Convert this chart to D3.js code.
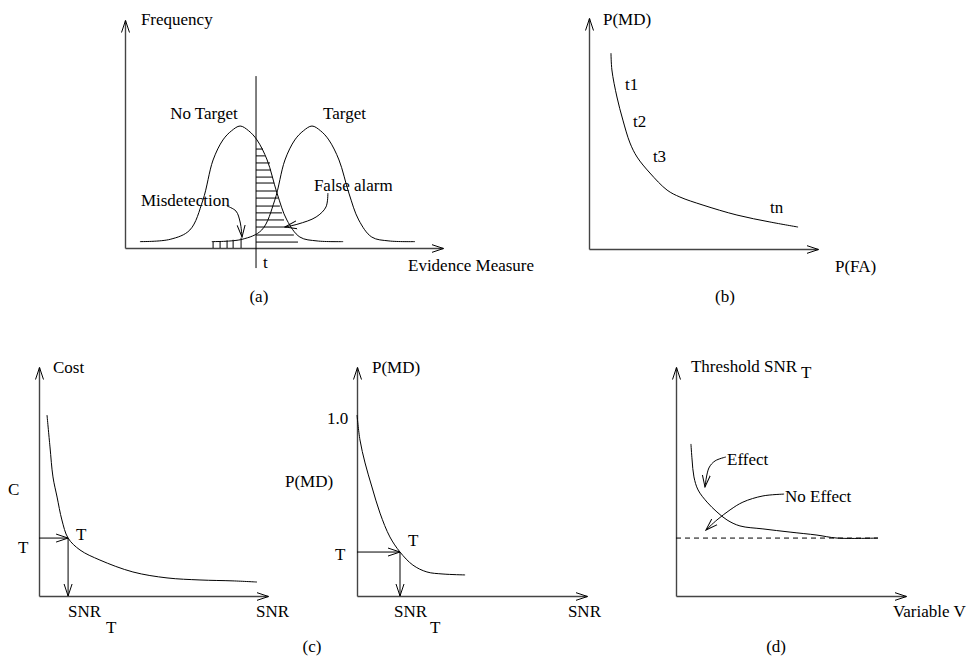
<!DOCTYPE html>
<html><head><meta charset="utf-8">
<script src="https://cdn.jsdelivr.net/npm/d3@7"></script>
<style>body{margin:0;background:#fff}svg{display:block}</style>
</head><body>
<svg id="chart" width="969" height="658"></svg>
<script>
// ---------- data (abstract axis units, 0..100 on each axis) ----------
// Panel (a): frequency distributions over the evidence measure
const noTargetCurve = [[4.7,2.8],[14.2,3.8],[20.4,7.9],[24.5,21],[27.7,38.6],[30.8,47.4],[33.5,51.4],[36.2,53.5],[38.9,51.4],[41.5,47.4],[44.7,38.6],[47.8,24.1],[50.9,12.3],[55,4.8],[60.4,3.1],[68.6,2.8]];
const targetCurve   = [[27.3,2.8],[36.8,3.8],[43,7.9],[47.1,21],[50.3,38.6],[53.4,47.4],[56.1,51.4],[58.8,53.5],[61.5,51.4],[64.1,47.4],[67.3,38.6],[70.4,24.1],[73.5,12.3],[77.6,4.8],[83,3.1],[91.2,2.8]];
const thresholdT = 41.2;
const thresholdSpan = [-8.8, 75.4];
const falseAlarmHatchY   = [43.4,40.4,37.3,34.2,31.1,28.5,25.0,21.9,18.4,15.4,12.3,9.2,5.7,2.6];
const falseAlarmHatchEnd = [43.4,44.0,45.6,45.9,46.5,46.9,47.5,48.1,48.7,49.4,50.0,50.9,53.1,54.4];
const missHatchX   = [27.7,29.9,32.1,34.0,36.5];
const missHatchTop = [2.8,3.0,3.3,3.6,4.5];
const missArrow  = [[32.1,18.4],[34.9,16.2],[36.2,11.4],[36.8,4.8]];
const faArrow    = [[63.8,24.1],[63.2,18.0],[60.1,13.6],[54.4,10.5],[50.3,9.2]];

// Panel (b): ROC-like curve P(MD) vs P(FA)
const rocCurve = [[9.6,84.8],[10.0,77.5],[12.2,65.8],[14.8,55.8],[17.9,45.9],[21.0,39.8],[26.6,32.9],[34.1,25.5],[39.7,22.5],[49.8,19.0],[64.6,14.7],[79.0,11.7],[91.3,9.5]];
const rocLabels = ["t1","t2","t3","tn"];

// Panel (c) left: cost vs SNR
const costCurve = [[3.5,79.0],[4.8,65.1],[6.1,52.0],[7.9,43.2],[10.0,33.2],[12.7,25.3],[17.9,20.1],[26.6,15.7],[41.0,10.5],[55.9,7.9],[70.3,7.0],[84.7,6.6],[95.2,6.1]];
const costPointT = [12.7,25.3];

// Panel (c) right: P(MD) vs SNR
const pmdCurve = [[0,79.0],[1.3,68.1],[3.5,58.1],[6.5,47.6],[10.0,36.2],[14.3,25.8],[18.7,19.2],[24.3,13.5],[30.4,10.5],[37.4,9.6],[47.0,9.2]];
const pmdPointT = [18.7,19.2];

// Panel (d): threshold SNR_T vs variable V
const effectCurve = [[6.5,66.4],[7.0,59.4],[7.8,52.0],[9.6,46.3],[13.5,41.0],[17.8,36.7],[22.2,33.2],[27.8,30.6],[37.8,29.3],[49.6,27.9],[61.3,26.6],[70.0,25.3],[87.8,25.3]];
const noEffectLevel = 25.3;
const noEffectSpan = [0, 87.8];
const effectArrow   = [[21.7,60.7],[17,59],[14.3,55.9],[12.6,47.6]];
const noEffectArrow = [[47,44.5],[37.8,43.7],[29.1,41.0],[23.5,37.6],[17.8,33.2],[13,28.8]];

// ---------- drawing ----------
const svg = d3.select("#chart");
svg.append("rect").attr("width",969).attr("height",658).attr("fill","#fff");

const defs = svg.append("defs");
defs.append("marker").attr("id","arr").attr("viewBox","0 0 13 10")
  .attr("refX",12).attr("refY",5).attr("markerWidth",13).attr("markerHeight",10)
  .attr("markerUnits","userSpaceOnUse").attr("orient","auto")
  .append("path").attr("d","M0,1 L12,5 L0,9").attr("fill","none").attr("stroke","#000").attr("stroke-width",1);

function panel(x0,x1,y0,y1){
  const x = d3.scaleLinear([0,100],[x0,x1]);
  const y = d3.scaleLinear([0,100],[y0,y1]);
  const g = svg.append("g");
  const ax = g.append("g").attr("transform",`translate(0,${y0})`).call(d3.axisBottom(x).tickValues([]).tickSizeOuter(0));
  const ay = g.append("g").attr("transform",`translate(${x0},0)`).call(d3.axisLeft(y).tickValues([]).tickSizeOuter(0));
  [ax,ay].forEach(a=>a.select(".domain").attr("stroke","#444").attr("stroke-width",1.4).attr("marker-end","url(#arr)"));
  return {x,y,g};
}
function curve(p,pts,opts={}){
  const line = d3.line().x(d=>p.x(d[0])).y(d=>p.y(d[1])).curve(opts.linear?d3.curveLinear:d3.curveCatmullRom.alpha(0.5));
  const path = p.g.append("path").attr("d",line(pts)).attr("fill","none").attr("stroke","#000").attr("stroke-width",1);
  if(opts.arrow) path.attr("marker-end","url(#arr)");
  if(opts.dash) path.attr("stroke-dasharray",opts.dash);
  return path;
}
function text(p,str,xv,yv,anchor="start"){
  return p.g.append("text").attr("x",p.x(xv)).attr("y",p.y(yv)).attr("text-anchor",anchor)
    .style("font-family","Liberation Serif").style("font-size","17px").attr("fill","#000").text(str);
}

// Panel (a)
const A = panel(125,443,248,20);
falseAlarmHatchY.forEach((yv,i)=>curve(A,[[thresholdT,yv],[falseAlarmHatchEnd[i],yv]],{linear:true}));
missHatchX.forEach((xv,i)=>curve(A,[[xv,0],[xv,missHatchTop[i]]],{linear:true}));
curve(A,noTargetCurve);
curve(A,targetCurve);
curve(A,[[thresholdT,thresholdSpan[0]],[thresholdT,thresholdSpan[1]]],{linear:true});
curve(A,missArrow,{arrow:true});
curve(A,faArrow,{arrow:true});
text(A,"Frequency",5.0,97.8);
text(A,"No Target",14.2,56.6);
text(A,"Target",62.3,56.6);
text(A,"Misdetection",5.0,18.4);
text(A,"False alarm",59.4,25.0);
text(A,"t",43.4,-8.8);
text(A,"Evidence Measure",89.0,-10.1);
text(A,"(a)",42.1,-23.7,"middle");

// Panel (b)
const B = panel(589,818,249,18);
curve(B,rocCurve);
text(B,"P(MD)",6.1,97.0);
[[15.7,68.8],[19.2,52.8],[27.9,37.7],[79.0,15.6]].forEach((q,i)=>text(B,rocLabels[i],q[0],q[1]));
text(B,"P(FA)",107.4,-10.0);
text(B,"(b)",59.4,-22.9,"middle");

// Panel (c) left
const C1 = panel(39,268,596,367);
curve(C1,costCurve);
curve(C1,[[0,costPointT[1]],costPointT],{linear:true,arrow:true});
curve(C1,[costPointT,[costPointT[0],0]],{linear:true,arrow:true});
text(C1,"Cost",6.1,97.4);
text(C1,"C",-13.5,44.1);
text(C1,"T",-9.2,18.8);
text(C1,"T",16.2,24.5);
text(C1,"SNR",12.7,-9.2);
text(C1,"T",29.3,-16.2);
text(C1,"SNR",94.8,-9.2);

// Panel (c) right
const C2 = panel(357,587,596,367);
curve(C2,pmdCurve);
curve(C2,[[0,pmdPointT[1]],pmdPointT],{linear:true,arrow:true});
curve(C2,[pmdPointT,[pmdPointT[0],0]],{linear:true,arrow:true});
text(C2,"P(MD)",6.5,97.4);
text(C2,"1.0",-13.0,75.1);
text(C2,"P(MD)",-31.3,47.6);
text(C2,"T",-9.6,15.7);
text(C2,"T",22.2,21.8);
text(C2,"SNR",16.1,-9.2);
text(C2,"T",31.7,-16.2);
text(C2,"SNR",91.7,-9.2);
text(C2,"(c)",-19.6,-24.5,"middle");

// Panel (d)
const D = panel(676,906,596,367);
curve(D,[[noEffectSpan[0],noEffectLevel],[noEffectSpan[1],noEffectLevel]],{linear:true,dash:"5,4"});
curve(D,effectCurve);
curve(D,effectArrow,{arrow:true});
curve(D,noEffectArrow,{arrow:true});
text(D,"Threshold SNR",6.5,97.8);
text(D,"T",54.3,95.2);
text(D,"Effect",22.2,57.2);
text(D,"No Effect",47.4,41.0);
text(D,"Variable V",94.3,-9.2);
text(D,"(d)",43.5,-24.5,"middle");
</script>
</body></html>
